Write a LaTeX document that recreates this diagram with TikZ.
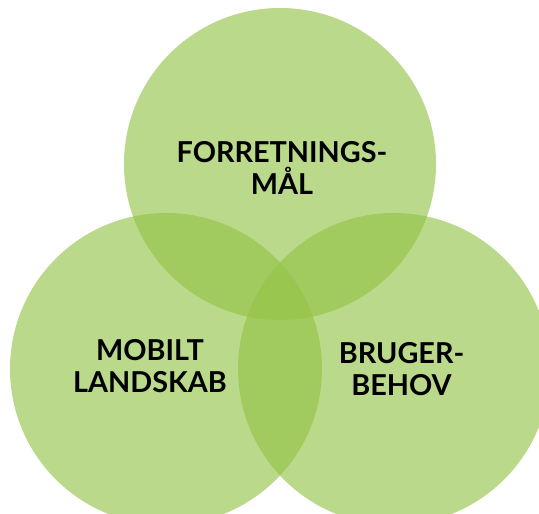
\documentclass[tikz,border=0pt]{standalone}
\usepackage{fontspec}
\newfontfamily\lblfont{Lato}
\definecolor{leaf}{RGB}{146,195,69}
\begin{document}
\begin{tikzpicture}[x=1pt,y=1pt,
  setcircle/.style={circle, fill=leaf, fill opacity=0.63, draw=none, minimum size=312pt, inner sep=0pt},
  setlabel/.style={text=black, align=center, inner sep=0pt, font=\lblfont\bfseries\fontsize{28.8}{32}\selectfont}]
  \useasboundingbox (0,0) rectangle (539,514);
  \begin{scope}
    \clip (0,0) rectangle (539,514);
    % the three overlapping sets
    \node[setcircle] (goals) at (280,350) {};
    \node[setcircle] (mobile) at (166,145) {};
    \node[setcircle] (users) at (394,145) {};
  \end{scope}
  % labels
  \node[setlabel] (goalstext) at (282,346.5) {FORRETNINGS-\\MÅL};
  \node[setlabel] (mobiletext) at (150,148.3) {MOBILT\\LANDSKAB};
  \node[setlabel] (userstext) at (401.5,144.7) {BRUGER-\\BEHOV};
\end{tikzpicture}
\end{document}
